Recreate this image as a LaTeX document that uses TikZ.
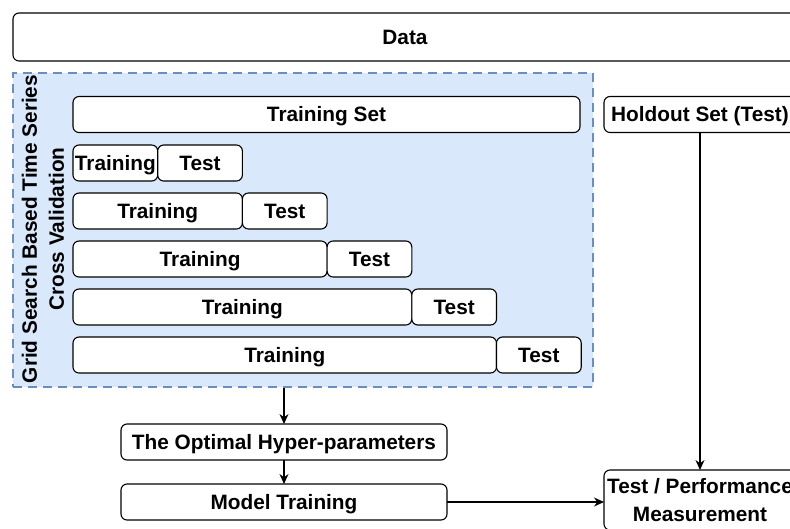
\documentclass[tikz,border=0pt]{standalone}
\usepackage{fontspec}
\setmainfont{Liberation Sans}
\usetikzlibrary{positioning,arrows.meta}
\definecolor{cvfill}{HTML}{DAE8FC}
\definecolor{cvline}{HTML}{6C8EBF}
\tikzset{
box/.style={draw, rounded corners=6pt, fill=white, line width=1.1pt, inner sep=0pt, outer sep=0pt, align=center, font=\bfseries\fontsize{20.8}{28}\selectfont, text height=14.9pt, text depth=0pt, minimum height=36pt}, % white rounded boxes
cvbox/.style={draw=cvline, fill=cvfill, dash pattern=on 9pt off 6pt, line width=2pt}, % the blue dashed frame
arrow/.style={-{Stealth[length=10pt,width=9pt]}, line width=1.1pt}, % connector with head
}

\begin{document}
\begin{tikzpicture}[x=1pt,y=-1pt]
   \useasboundingbox (0,0) rectangle (790,528);
   \clip (0,0) rectangle (790,528);
   \node[box, minimum width=784, minimum height=48] (data) at (405,37) {Data};
   % cross validation frame
   \node[cvbox, minimum width=580, minimum height=314, anchor=north west] (cv) at (12,72) {};
   \node[rotate=90, align=center, font=\bfseries\fontsize{20.8}{27}\selectfont] (cvlabel) at (43,229) {Grid Search Based Time Series\\Cross Validation};
   \node[box, minimum width=507] (trainset) at (326.5,114.5) {Training Set};
   \foreach \i in {1,...,5} {
      \node[box, minimum width=84.7*\i, anchor=north west] (train\i) at (73,145+48*\i-48) {Training};
      \node[box, minimum width=84.7, right=0pt of train\i] (test\i) {Test};
   }
   \node[box, minimum width=192] (holdout) at (700,114.5) {Holdout Set (Test)};
   \node[box, minimum width=326] (optimal) at (284,442) {The Optimal Hyper-parameters};
   \node[box, minimum width=326] (model) [below=24pt of optimal] {Model Training};
   \node[box, text height={}, text depth={}, minimum width=192, minimum height=60] (perf) at (700,500) {Test / Performance\\Measurement};
   \path[arrow]
   (cv.south -| optimal.north) edge (optimal.north)
   (optimal) edge (model)
   (holdout) edge (perf)
   (model.east) edge (model.east -| perf.west);
\end{tikzpicture}
\end{document}
